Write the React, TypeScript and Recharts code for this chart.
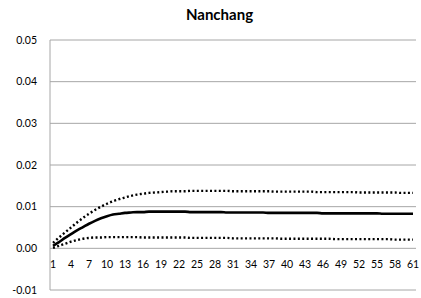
import React from "react";
import { LineChart, Line, XAxis, YAxis, CartesianGrid } from "recharts";

const periods: string[] = Array.from({ length: 61 }, (_, i) => String(i + 1));

const middle = [
  0.0006, 0.0015, 0.0025, 0.0034, 0.0043, 0.0051, 0.0059, 0.0066, 0.0072, 0.0077,
  0.0081, 0.0083, 0.0085, 0.0086, 0.0087, 0.0087, 0.0088, 0.0088, 0.0088, 0.0088,
  0.0088, 0.0088, 0.0088, 0.0087, 0.0087, 0.0087, 0.0087, 0.0087, 0.0087, 0.0086,
  0.0086, 0.0086, 0.0086, 0.0086, 0.0086, 0.0086, 0.0085, 0.0085, 0.0085, 0.0085,
  0.0085, 0.0085, 0.0085, 0.0085, 0.0085, 0.0084, 0.0084, 0.0084, 0.0084, 0.0084,
  0.0084, 0.0084, 0.0084, 0.0084, 0.0084, 0.0083, 0.0083, 0.0083, 0.0083, 0.0083, 0.0083,
];

const upper = [
  0.0013, 0.0026, 0.0038, 0.005, 0.0062, 0.0073, 0.0083, 0.0092, 0.01, 0.0107,
  0.0113, 0.0118, 0.0122, 0.0126, 0.0129, 0.0131, 0.0133, 0.0134, 0.0135, 0.0136,
  0.0137, 0.0137, 0.0137, 0.0138, 0.0138, 0.0138, 0.0138, 0.0138, 0.0138, 0.0138,
  0.0137, 0.0137, 0.0137, 0.0137, 0.0137, 0.0137, 0.0137, 0.0136, 0.0136, 0.0136,
  0.0136, 0.0136, 0.0136, 0.0136, 0.0135, 0.0135, 0.0135, 0.0135, 0.0135, 0.0135,
  0.0135, 0.0134, 0.0134, 0.0134, 0.0134, 0.0134, 0.0134, 0.0134, 0.0133, 0.0133, 0.0133,
];

const lower = [
  0.0001, 0.0006, 0.0011, 0.0016, 0.002, 0.0023, 0.0025, 0.0026, 0.0026, 0.0027,
  0.0027, 0.0027, 0.0027, 0.0027, 0.0027, 0.0026, 0.0026, 0.0026, 0.0026, 0.0026,
  0.0026, 0.0026, 0.0026, 0.0025, 0.0025, 0.0025, 0.0025, 0.0025, 0.0025, 0.0025,
  0.0024, 0.0024, 0.0024, 0.0024, 0.0024, 0.0024, 0.0024, 0.0024, 0.0023, 0.0023,
  0.0023, 0.0023, 0.0023, 0.0023, 0.0023, 0.0023, 0.0023, 0.0022, 0.0022, 0.0022,
  0.0022, 0.0022, 0.0022, 0.0022, 0.0022, 0.0022, 0.0022, 0.0021, 0.0021, 0.0021, 0.0021,
];

const yTicks = [-0.01, 0, 0.01, 0.02, 0.03, 0.04, 0.05];

const data = periods.map((p, i) => ({
  period: p,
  middle: middle[i],
  upper: upper[i],
  lower: lower[i],
}));

const FONT = "Lato, 'Noto Sans', sans-serif";

const XTick = (props: any) => {
  const { x, y, payload } = props;
  return (
    <text
      x={x}
      y={y - 22}
      textAnchor="middle"
      fontFamily={FONT}
      fontSize={10.5}
      fill="#000"
    >
      {payload.value}
    </text>
  );
};

export default function App() {
  return (
    <div style={{ position: "absolute", left: 0, top: 0, width: 421, height: 298, background: "#fff" }}>
      <div
        style={{
          position: "absolute",
          left: 0,
          top: 5,
          width: 439,
          textAlign: "center",
          fontFamily: FONT,
          fontWeight: 700,
          fontSize: 15,
          color: "#000",
        }}
      >
        Nanchang
      </div>
      <LineChart
        width={421}
        height={298}
        data={data}
        margin={{ top: 40, right: 5, bottom: 7, left: 0 }}
      >
        <CartesianGrid vertical={false} stroke="#a6a6a6" strokeWidth={1} />
        <XAxis
          dataKey="period"
          interval={2}
          height={1}
          axisLine={false}
          tickLine={false}
          tickSize={0}
          tickMargin={0}
          padding={{ left: 3, right: 3 }}
          tick={<XTick />}
        />
        <YAxis
          width={50}
          domain={[-0.01, 0.05]}
          ticks={yTicks}
          interval={0}
          tickFormatter={(v: number) => v.toFixed(2)}
          axisLine={{ stroke: "#a6a6a6" }}
          tickLine={false}
          tickSize={0}
          tickMargin={13}
          tick={{ fontFamily: FONT, fontSize: 10.5, fill: "#000" }}
        />
        <Line
          type="monotone"
          dataKey="upper"
          stroke="#000"
          strokeWidth={2.4}
          strokeDasharray="2 2.4"
          dot={false}
          isAnimationActive={false}
        />
        <Line
          type="monotone"
          dataKey="lower"
          stroke="#000"
          strokeWidth={2.4}
          strokeDasharray="2 2.4"
          dot={false}
          isAnimationActive={false}
        />
        <Line
          type="monotone"
          dataKey="middle"
          stroke="#000"
          strokeWidth={2.6}
          dot={false}
          isAnimationActive={false}
        />
      </LineChart>
    </div>
  );
}
